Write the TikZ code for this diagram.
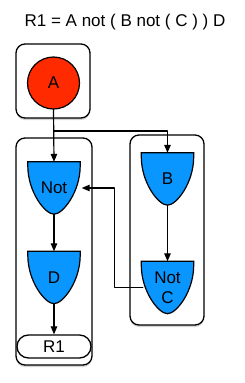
\documentclass[tikz,border=0pt]{standalone}
\usepackage{fontspec}
\setmainfont{Liberation Sans}
\usetikzlibrary{arrows.meta,calc,shadows,backgrounds}
\definecolor{gatered}{HTML}{FF2A00}
\definecolor{gateblue}{HTML}{0A96FF}
\begin{document}
\begin{tikzpicture}[x=1pt,y=-1pt,line cap=round,line join=round,
  font=\fontsize{17}{21}\selectfont,
  frame/.style={draw,line width=1.3pt,rounded corners=9pt,fill=white,
    drop shadow={shadow xshift=0pt,shadow yshift=-2pt,opacity=.35}},
  gate/.style={minimum width=52pt,minimum height=52pt,inner sep=0pt,align=center},
  shield/.style={draw,line width=1.2pt,fill=gateblue},
  src/.style={circle,draw,line width=1.2pt,fill=gatered,minimum size=52pt,inner sep=0pt},
  sink/.style={draw,line width=1.3pt,rounded corners=11.5pt,fill=white,
    minimum width=74pt,minimum height=23pt,inner sep=0pt},
  arr/.style={-{Triangle[length=8pt,width=6.5pt]},line width=1.2pt}]
\useasboundingbox (0,0) rectangle (245,383);
\node (title) at (125,22) {R1 = A not ( B not ( C ) ) D};
% frames
\begin{scope}[on background layer]
\node[frame,minimum width=74pt,minimum height=74pt] (fa) at (53,81) {};
\node[frame,minimum width=76pt,minimum height=227pt] (fl) at (54,251.5) {};
\node[frame,minimum width=74pt,minimum height=190pt] (fr) at (167,230) {};
\end{scope}
% nodes
\node[src] (a) at (53.5,83) {A};
\node[gate] (nt) at (54,188) {Not};
\node[gate] (d) at (54,277.5) {D};
\node[gate] (b) at (167.5,179) {B};
\node[gate] (nc) at (167.5,287.5) {Not\\[-1pt]C};
\node[sink] (r1) at (54,346.5) {R1};
\begin{scope}[on background layer]
\foreach \g in {nt,d,b,nc}
  \draw[shield] (\g.north west) -- (\g.north east) -- ++(0,4)
    .. controls ++(0,26) and ++(9,0) .. (\g.south)
    .. controls ++(-9,0) and ++(0,26) .. ($(\g.north west)+(0,4)$) -- cycle;
\end{scope}
% connectors
\coordinate (split) at (54,131);
\draw[arr] (a.south) -- (nt.north);
\draw[arr] (split) -| (b.north);
\draw[arr] (b.south) -- (nc.north);
\draw[arr] (nt.south) -- (d.north);
\draw[arr] (d.south) -- (r1.north);
\draw[arr,shorten >=1.5pt] ([xshift=1.5pt]nc.west) -- ++(-28.5,0) |- (nt.east);
\end{tikzpicture}
\end{document}
